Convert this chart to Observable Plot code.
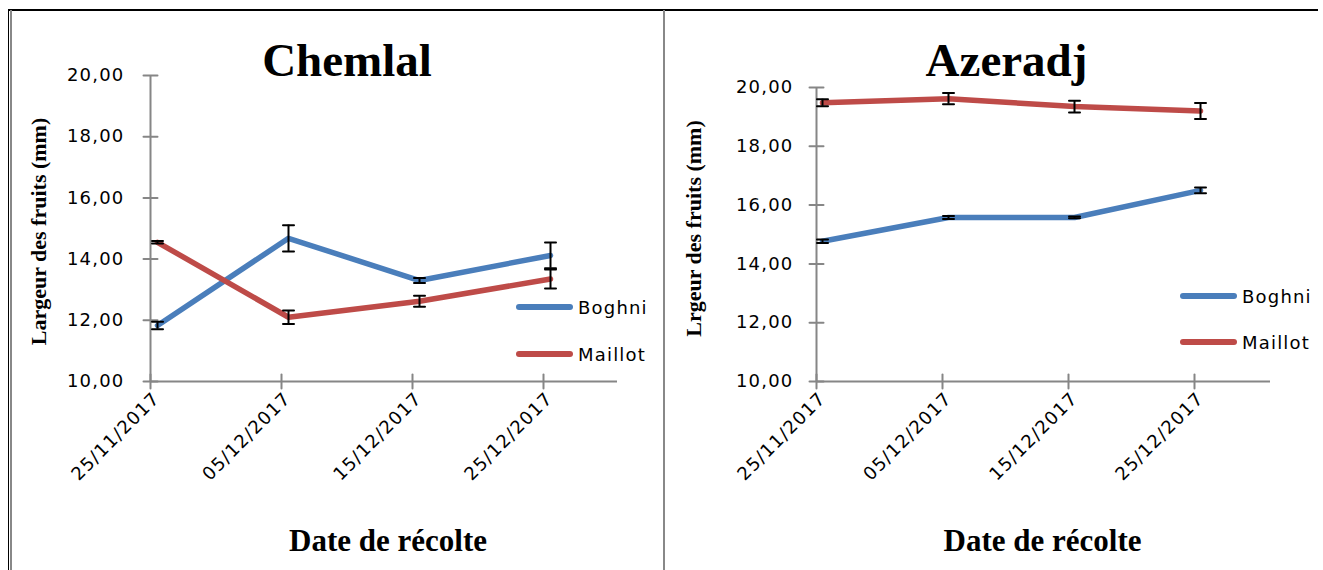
<!DOCTYPE html>
<html><head><meta charset="utf-8">
<script src="https://cdn.jsdelivr.net/npm/d3@7"></script>
<script src="https://cdn.jsdelivr.net/npm/@observablehq/plot@0.6"></script>
<style>
html,body{margin:0;padding:0;background:#fff;}
body{width:1323px;height:570px;overflow:hidden;position:relative;font-family:"DejaVu Sans",sans-serif;}
.panel{position:absolute;top:0;}
.panel svg{overflow:visible;}
g[aria-label="y-axis tick label"] text, g[aria-label="x-axis tick label"] text{letter-spacing:1.2px;}
.line{position:absolute;}
.leg{position:absolute;display:flex;align-items:center;font-size:18px;letter-spacing:1.2px;color:#000;}
.sw{width:57px;height:6px;border-radius:3px;margin-right:5px;}
</style></head>
<body>
<div class="line" style="left:8px;top:9px;width:1310px;height:1.5px;background:#000"></div>
<div class="line" style="left:8px;top:9px;width:1px;height:561px;background:#000"></div>
<div class="line" style="left:10px;top:10px;width:2px;height:560px;background:#888"></div>
<div class="line" style="left:663px;top:10px;width:2px;height:560px;background:#888"></div>
<div id="p1" class="panel" style="left:0px"></div>
<div id="p2" class="panel" style="left:663px"></div>
<script>
// ---- data ----
const dates = ["25/11/2017", "05/12/2017", "15/12/2017", "25/12/2017"];
const yTicks = [10, 12, 14, 16, 18, 20];
const yTickLabels = ["10,00", "12,00", "14,00", "16,00", "18,00", "20,00"];
const series = ["Boghni", "Maillot"];
const colors = ["#4a7ebb", "#be4b48"];

const chemlalBoghni = [11.83, 14.68, 13.30, 14.12];
const chemlalBoghniErr = [0.12, 0.43, 0.08, 0.42];
const chemlalMaillot = [14.55, 12.10, 12.62, 13.35];
const chemlalMaillotErr = [0.04, 0.22, 0.18, 0.31];

const azeradjBoghni = [14.77, 15.58, 15.58, 16.50];
const azeradjBoghniErr = [0.06, 0.05, 0.03, 0.10];
const azeradjMaillot = [19.48, 19.62, 19.35, 19.20];
const azeradjMaillotErr = [0.12, 0.19, 0.20, 0.27];

function rows(b, be, m, me) {
  const out = [];
  dates.forEach((d, i) => out.push({i, date: d, series: series[0], v: b[i], e: be[i]}));
  dates.forEach((d, i) => out.push({i, date: d, series: series[1], v: m[i], e: me[i]}));
  return out;
}
const idx = dates.map((d, i) => i);
const gray = "#868686";
const lineShape = {draw(ctx, l) { ctx.moveTo(0, 0); ctx.lineTo(0, -l); }};

function panel(o) {
  const data = o.data;
  return Plot.plot({
    width: o.width, height: 570,
    marginLeft: o.ml, marginRight: o.mr, marginTop: o.mt, marginBottom: o.mb,
    x: {domain: [0, 3], range: o.xRange, axis: null},
    y: {domain: [10, 20], axis: null},
    color: {domain: series, range: colors},
    style: {fontFamily: "'DejaVu Sans', sans-serif", fontSize: "18px", color: "#000", background: "transparent"},
    marks: [
      Plot.ruleX([0], {stroke: gray, strokeWidth: 2}),
      Plot.ruleY([10], {stroke: gray, strokeWidth: 2}),
      Plot.vector(yTicks, {x: 0, y: d => d, length: 14, rotate: 90, anchor: "middle", shape: lineShape, stroke: gray, strokeWidth: 2}),
      Plot.vector(idx, {x: d => d, y: 10, length: 14, rotate: 0, anchor: "middle", shape: lineShape, stroke: gray, strokeWidth: 2}),
      Plot.axisY({ticks: yTicks, tickFormat: d => yTickLabels[yTicks.indexOf(d)], tickSize: 0, tickPadding: o.tickPad, label: null, fontSize: 18}),
      Plot.axisX({ticks: idx, tickFormat: d => dates[d], tickRotate: -45, tickSize: 0, tickPadding: 14, dx: 6, label: null, fontSize: 18}),
      Plot.line(data, {x: "i", y: "v", z: "series", stroke: "series", strokeWidth: 5.5, strokeLinejoin: "round", strokeLinecap: "round", dx: o.dx}),
      Plot.ruleX(data, {x: "i", y1: d => d.v - d.e, y2: d => d.v + d.e, stroke: "#000", strokeWidth: 2, dx: o.dx}),
      Plot.vector(data, {x: "i", y: d => d.v - d.e, length: 11, rotate: 90, anchor: "middle", shape: lineShape, stroke: "#000", strokeWidth: 2, dx: o.dx}),
      Plot.vector(data, {x: "i", y: d => d.v + d.e, length: 11, rotate: 90, anchor: "middle", shape: lineShape, stroke: "#000", strokeWidth: 2, dx: o.dx}),
      Plot.text([o.title], {text: d => d, frameAnchor: "top", lineAnchor: "bottom", dx: o.titleDx, dy: o.titleDy, fontSize: 47, fontWeight: "bold", fontFamily: "'Liberation Serif', serif", fill: "#000"}),
      Plot.text([o.ylabel], {text: d => d, frameAnchor: "left", textAnchor: "middle", rotate: -90, lineAnchor: "middle", dx: o.ylDx, dy: o.ylDy, fontSize: 22, fontWeight: "bold", fontFamily: "'Liberation Serif', serif", fill: "#000"}),
      Plot.text(["Date de récolte"], {text: d => d, frameAnchor: "bottom", lineAnchor: "bottom", dx: o.xlDx, dy: 169, fontSize: 31, fontWeight: "bold", fontFamily: "'Liberation Serif', serif", fill: "#000"})
    ]
  });
}

document.getElementById("p1").append(panel({
  data: rows(chemlalBoghni, chemlalBoghniErr, chemlalMaillot, chemlalMaillotErr),
  width: 663, ml: 150, mr: 46, mt: 75, mb: 189, xRange: [150, 543], tickPad: 26, dx: 7,
  title: "Chemlal", titleDx: -37, titleDy: 0,
  ylabel: "Largeur des fruits (mm)", ylDx: -112, ylDy: 3, xlDx: 4
}));
document.getElementById("p2").append(panel({
  data: rows(azeradjBoghni, azeradjBoghniErr, azeradjMaillot, azeradjMaillotErr),
  width: 660, ml: 153, mr: 53, mt: 87, mb: 189, xRange: [153, 531], tickPad: 23, dx: 6,
  title: "Azeradj", titleDx: -37, titleDy: -12,
  ylabel: "Lrgeur des fruits (mm)", ylDx: -123, ylDy: -6, xlDx: -1
}));

// legends
function legend(left, tops) {
  series.forEach((s, k) => {
    const d = document.createElement("div");
    d.className = "leg";
    d.style.left = left + "px";
    d.style.top = (tops[k] - 12) + "px";
    d.style.height = "24px";
    const sw = document.createElement("div");
    sw.className = "sw";
    sw.style.background = colors[k];
    d.append(sw, document.createTextNode(s));
    document.body.append(d);
  });
}
legend(516, [307, 354]);
legend(1180, [296, 342]);
</script>
</body></html>
